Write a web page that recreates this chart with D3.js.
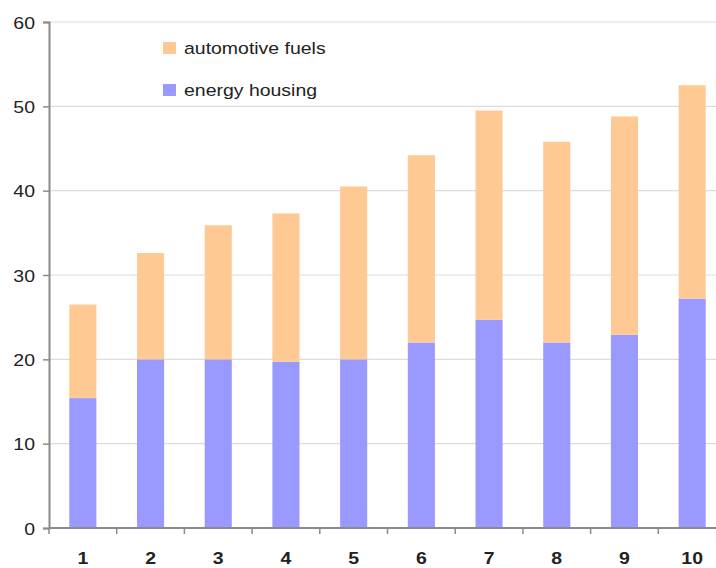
<!DOCTYPE html>
<html>
<head>
<meta charset="utf-8">
<script src="https://cdn.jsdelivr.net/npm/d3@7"></script>
<style>
  html, body { margin: 0; padding: 0; background: #fff; }
  svg { display: block; }
  text { font-family: "Liberation Sans", Arial, sans-serif; fill: #222; }
</style>
</head>
<body>
<svg id="chart" width="716" height="568"></svg>
<script>
// Categories along the x axis
const categories = ["1", "2", "3", "4", "5", "6", "7", "8", "9", "10"];
// Stacked series (bottom to top)
const energyHousing   = [15.4, 20.0, 20.0, 19.7, 20.0, 22.0, 24.7, 22.0, 22.9, 27.2];
const automotiveFuels = [11.1, 12.6, 15.9, 17.6, 20.5, 22.2, 24.8, 23.8, 25.9, 25.3];
const seriesNames = ["energy housing", "automotive fuels"];
const seriesColors = ["#9999ff", "#ffc994"];
const yTicks = [0, 10, 20, 30, 40, 50, 60];

const svg = d3.select("#chart");
const W = 716, H = 568;
const plotLeft = 49, plotTop = 22, plotBottom = 528, plotRight = 726;
const textStretch = 1.18;

const rows = categories.map((c, i) => ({
  cat: c,
  "energy housing": energyHousing[i],
  "automotive fuels": automotiveFuels[i]
}));
const stacked = d3.stack().keys(seriesNames)(rows);

const x = d3.scaleBand().domain(categories).range([plotLeft, plotRight])
  .paddingInner(0.6).paddingOuter(0.3);
const y = d3.scaleLinear().domain([0, 60]).range([plotBottom, plotTop]);

// Horizontal gridlines
svg.append("g").selectAll("line").data(yTicks.filter(d => d > 0)).join("line")
  .attr("x1", plotLeft).attr("x2", W)
  .attr("y1", d => y(d)).attr("y2", d => y(d))
  .attr("stroke", "#dcdcdc").attr("stroke-width", 1.2);

// Stacked bars
svg.append("g").selectAll("g").data(stacked).join("g")
  .attr("fill", (d, i) => seriesColors[i])
  .selectAll("rect").data(d => d).join("rect")
  .attr("x", d => x(d.data.cat))
  .attr("width", x.bandwidth())
  .attr("y", d => y(d[1]))
  .attr("height", d => y(d[0]) - y(d[1]));

// Y axis
const yAxis = svg.append("g").attr("transform", `translate(${plotLeft},0)`)
  .call(d3.axisLeft(y).tickValues(yTicks).tickSize(6).tickPadding(0).tickFormat(d3.format("d")));
yAxis.select(".domain").attr("stroke", "#8a8a8a").attr("stroke-width", 2);
yAxis.selectAll(".tick line").attr("stroke", "#8a8a8a").attr("stroke-width", 1.5);
yAxis.selectAll(".tick text")
  .attr("x", null).attr("dy", null)
  .attr("text-anchor", "end")
  .attr("transform", `translate(-14,6) scale(${textStretch},1)`)
  .style("font-size", "16.5px")
  .style("font-family", "'Liberation Sans', Arial, sans-serif")
  .attr("fill", "#222");

// X axis with tick marks between categories
const xAxis = svg.append("g").attr("transform", `translate(0,${plotBottom})`)
  .call(d3.axisBottom(x).tickSize(0).tickPadding(0));
xAxis.select(".domain").attr("stroke", "#8a8a8a").attr("stroke-width", 2)
  .attr("d", `M${plotLeft},0H${W}`);
xAxis.selectAll(".tick text")
  .attr("y", null).attr("dy", null)
  .attr("transform", `translate(0,36) scale(${textStretch},1)`)
  .style("font-size", "16.5px")
  .style("font-weight", "bold")
  .style("font-family", "'Liberation Sans', Arial, sans-serif")
  .attr("fill", "#222");
const boundaries = categories.map(c => x(c) - x.step() * x.paddingInner() / 2).concat([plotRight]);
xAxis.append("g").selectAll("line").data(boundaries).join("line")
  .attr("x1", d => d).attr("x2", d => d)
  .attr("y1", 0).attr("y2", 6)
  .attr("stroke", "#8a8a8a").attr("stroke-width", 1.5);

// Legend
const legendItems = [
  { name: "automotive fuels", color: seriesColors[1] },
  { name: "energy housing", color: seriesColors[0] }
];
const legend = svg.append("g").selectAll("g").data(legendItems).join("g")
  .attr("transform", (d, i) => `translate(163,${42 + i * 42})`);
legend.append("rect").attr("width", 13).attr("height", 12).attr("fill", d => d.color);
legend.append("text")
  .attr("transform", `translate(21,12) scale(${textStretch},1)`)
  .style("font-size", "16.5px")
  .text(d => d.name);
</script>
</body>
</html>
